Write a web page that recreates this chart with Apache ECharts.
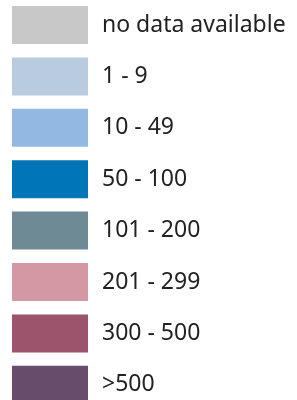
<!DOCTYPE html>
<html>
<head>
<meta charset="utf-8">
<script src="https://cdn.jsdelivr.net/npm/echarts@6/dist/echarts.min.js"></script>
<style>
  html, body { margin: 0; padding: 0; background: #fff; }
  #main { width: 297px; height: 400px; }
</style>
</head>
<body>
<div id="main"></div>
<script>
// legend classes of the map (counts)
var labels = ['no data available', '1 - 9', '10 - 49', '50 - 100', '101 - 200', '201 - 299', '300 - 500', '>500'];
var mins = [-1, 1, 10, 50, 101, 201, 300, 501];
var maxs = [0, 9, 49, 100, 200, 299, 500, Infinity];
var colors = ['#c8c8c8', '#b9cbdf', '#93b8e2', '#0075b8', '#6e8a94', '#d498a4', '#9b546b', '#674c6c'];

var myChart = echarts.init(document.getElementById('main'));

var pieces = labels.map(function (l, i) {
  var p = { min: mins[i], label: l, color: colors[i] };
  if (maxs[i] !== Infinity) p.max = maxs[i];
  return p;
});

var option = {
  backgroundColor: '#fff',
  visualMap: {
    type: 'piecewise',
    pieces: pieces,
    inverse: true,
    orient: 'vertical',
    left: 12,
    top: 6,
    padding: 0,
    align: 'left',
    itemWidth: 76,
    itemHeight: 38,
    itemGap: 13.4,
    itemSymbol: 'rect',
    textGap: 14,
    selectedMode: false,
    textStyle: {
      color: '#222',
      fontSize: 23,
      fontFamily: 'Noto Sans'
    }
  },
  series: []
};
myChart.setOption(option);
</script>
</body>
</html>
